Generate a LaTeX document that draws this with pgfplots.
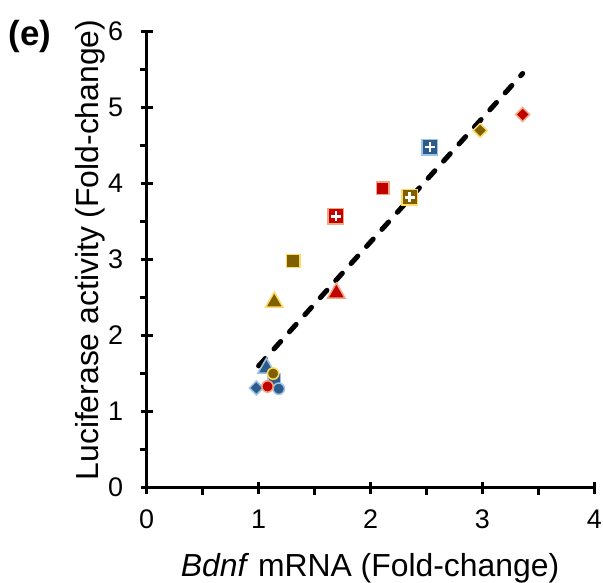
\documentclass[border=0pt]{standalone}
\usepackage{pgfplots}
\pgfplotsset{compat=1.18}
\usepackage{fontspec}
\setmainfont{Liberation Sans}
\definecolor{cRed}{HTML}{C00000}
\definecolor{cRedE}{HTML}{F4A582}
\definecolor{cGold}{HTML}{7F6000}
\definecolor{cGoldE}{HTML}{FFD966}
\definecolor{cBlue}{HTML}{2E5C8A}
\definecolor{cBlueE}{HTML}{9DC3E6}

\begin{document}
\begin{tikzpicture}
\begin{axis}[
    at={(0,0)}, anchor=south west,
    scale only axis,
    width=447.6bp, height=455.8bp,
    xmin=0, xmax=4, ymin=0, ymax=6,
    axis x line*=bottom, axis y line*=left,
    axis line style={line width=2.5bp},
    xtick={0,1,2,3,4}, ytick={0,1,2,3,4,5,6},
    minor xtick={0.5,1.5,2.5,3.5}, minor ytick={0.5,1.5,2.5,3.5,4.5,5.5},
    tick align=center,
    major tick length=12bp, minor tick length=7bp,
    every tick/.style={black, line width=2.5bp},
    minor x tick style={yshift=-3.5bp},
    minor y tick style={xshift=-3.5bp},
    /pgf/number format/assume math mode=true,
    tick label style={font=\fontsize{27}{31}\selectfont},
    xticklabel style={yshift=-13bp},
    yticklabel style={xshift=-14bp},
    xlabel={\textit{Bdnf} mRNA (Fold-change)},
    ylabel={Luciferase activity (Fold-change)},
    label style={font=\fontsize{32}{37}\selectfont},
    xlabel style={at={(axis description cs:0.499,-0.1957)}, anchor=base},
    ylabel style={at={(axis description cs:-0.125,0.521)}, anchor=center, rotate=0},
    clip=false,
]
% blue series
\addplot[only marks, mark=square*, mark size=7.7bp, mark options={fill=cBlue, draw=cBlueE, line width=1.5bp}] coordinates {(2.53,4.48)};
\addplot[only marks, mark=+, mark size=5bp, mark options={draw=white, line width=2.5bp}] coordinates {(2.53,4.48)};
\addplot[only marks, mark=triangle*, mark size=10bp, mark options={fill=cBlue, draw=cBlueE, line width=1.5bp}] coordinates {(1.07,1.57)};
\addplot[only marks, mark=square*, mark size=6.2bp, mark options={fill=cBlue, draw=cBlueE, line width=1.5bp}] coordinates {(1.14,1.42)};
\addplot[only marks, mark=square*, mark size=4.9bp, mark options={rotate=45, fill=cBlue, draw=cBlueE, line width=1.5bp}] coordinates {(0.98,1.31)};
\addplot[only marks, mark=*, mark size=5.7bp, mark options={fill=cBlue, draw=cBlueE, line width=1.5bp}] coordinates {(1.18,1.30)};
% gold series
\addplot[only marks, mark=square*, mark size=4.9bp, mark options={rotate=45, fill=cGold, draw=cGoldE, line width=1.5bp}] coordinates {(2.98,4.70)};
\addplot[only marks, mark=square*, mark size=7.7bp, mark options={fill=cGold, draw=cGoldE, line width=1.5bp}] coordinates {(2.35,3.82)};
\addplot[only marks, mark=+, mark size=5bp, mark options={draw=white, line width=2.5bp}] coordinates {(2.35,3.82)};
\addplot[only marks, mark=square*, mark size=6.6bp, mark options={fill=cGold, draw=cGoldE, line width=1.5bp}] coordinates {(1.31,2.98)};
\addplot[only marks, mark=triangle*, mark size=10bp, mark options={fill=cGold, draw=cGoldE, line width=1.5bp}] coordinates {(1.14,2.44)};
\addplot[only marks, mark=*, mark size=5.7bp, mark options={fill=cGold, draw=cGoldE, line width=1.5bp}] coordinates {(1.13,1.50)};
% red series
\addplot[only marks, mark=square*, mark size=4.9bp, mark options={rotate=45, fill=cRed, draw=cRedE, line width=1.5bp}] coordinates {(3.36,4.91)};
\addplot[only marks, mark=square*, mark size=6.2bp, mark options={fill=cRed, draw=cRedE, line width=1.5bp}] coordinates {(2.11,3.94)};
\addplot[only marks, mark=square*, mark size=7.7bp, mark options={fill=cRed, draw=cRedE, line width=1.5bp}] coordinates {(1.69,3.57)};
\addplot[only marks, mark=+, mark size=5bp, mark options={draw=white, line width=2.5bp}] coordinates {(1.69,3.57)};
\addplot[only marks, mark=triangle*, mark size=10bp, mark options={fill=cRed, draw=cRedE, line width=1.5bp}] coordinates {(1.695,2.56)};
\addplot[only marks, mark=*, mark size=5.7bp, mark options={fill=cRed, draw=cRedE, line width=1.5bp}] coordinates {(1.08,1.33)};
% trend line
\addplot[black, line width=5bp, line cap=round, dash pattern=on 10bp off 13bp] coordinates {(1.00,1.60) (3.36,5.45)};
\node[font=\fontsize{35}{40}\selectfont\bfseries] at (axis description cs:-0.2607,0.99) {(e)};
\end{axis}
\pgfresetboundingbox
\path (-146.7bp,-95.5bp) rectangle (456.3bp,487.5bp);
\end{tikzpicture}
\end{document}
